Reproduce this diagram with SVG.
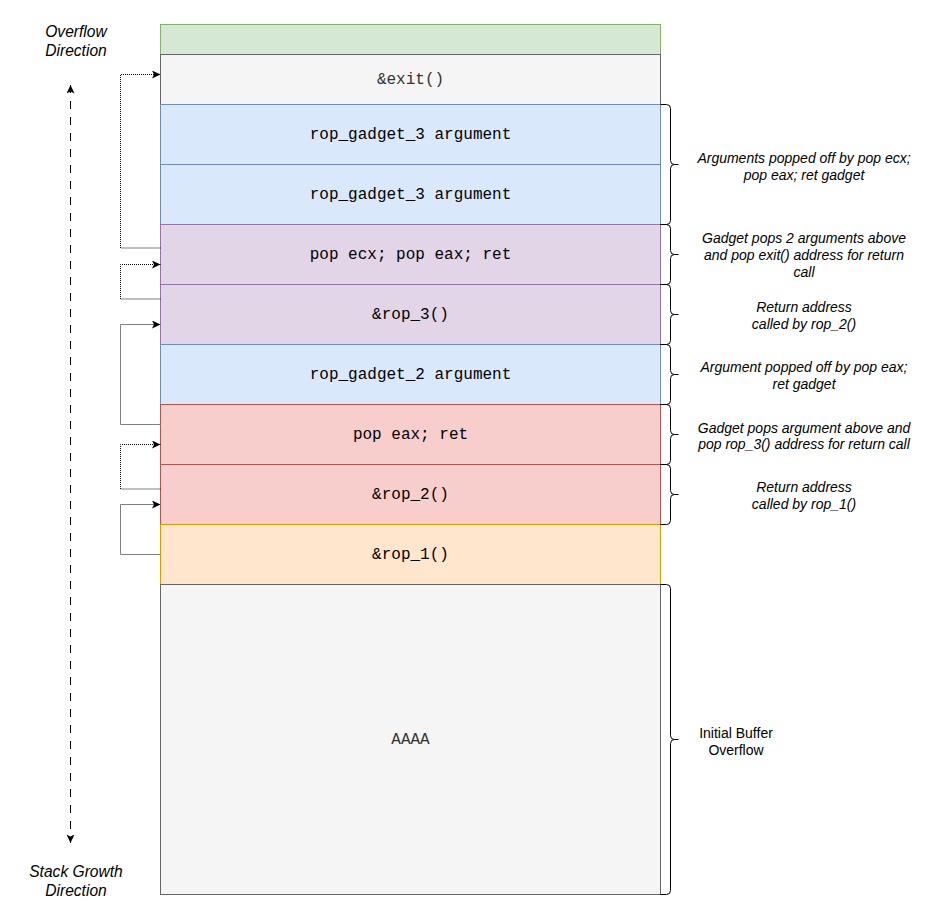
<svg xmlns="http://www.w3.org/2000/svg" width="934" height="918" viewBox="0 0 934 918">
<style>
.cell{stroke-width:1}
.g{fill:#d5e8d4;stroke:#82b366}
.gr{fill:#f5f5f5;stroke:#666666}
.b{fill:#dae8fc;stroke:#6c8ebf}
.p{fill:#e1d5e7;stroke:#9673a6}
.r{fill:#f8cecc;stroke:#b85450}
.o{fill:#ffe6cc;stroke:#d79b00}
.ct{font-family:"Liberation Mono","Courier New",monospace;font-size:16px;fill:#000;text-anchor:middle;dominant-baseline:central}
.ctg{fill:#333333}
.lbl{font-family:"Liberation Sans",Arial,sans-serif;font-style:italic;font-size:14px;fill:#000;text-anchor:middle;dominant-baseline:central}
.side{font-family:"Liberation Sans",Arial,sans-serif;font-style:italic;font-size:15.6px;fill:#000;text-anchor:middle;dominant-baseline:central}
.brace{fill:none;stroke:#000;stroke-width:1}
.dot{fill:none;stroke:#000;stroke-width:1;stroke-dasharray:1 1}
.sol{fill:none;stroke:#808080;stroke-width:1}
.dash{fill:none;stroke:#000;stroke-width:1;stroke-dasharray:8 8}
</style>
<defs>
<marker id="arr" markerUnits="userSpaceOnUse" markerWidth="10" markerHeight="10" viewBox="0 0 10 10" refX="8.5" refY="4" orient="auto-start-reverse">
<path d="M0,0 L8.5,4 L0,8 L2,4 Z" fill="#000" stroke="none"/>
</marker>
</defs>
<g id="node-top"><rect class="cell g" x="160.5" y="24.5" width="500" height="30"/></g>
<g id="node-exit"><rect class="cell gr" x="160.5" y="54.5" width="500" height="50"/><text class="ct ctg" x="410.5" y="79.5">&amp;exit()</text></g>
<g id="node-arg3a"><rect class="cell b" x="160.5" y="104.5" width="500" height="60"/><text class="ct" x="410.5" y="134.5">rop_gadget_3 argument</text></g>
<g id="node-arg3b"><rect class="cell b" x="160.5" y="164.5" width="500" height="60"/><text class="ct" x="410.5" y="194.5">rop_gadget_3 argument</text></g>
<g id="node-popecx"><rect class="cell p" x="160.5" y="224.5" width="500" height="60"/><text class="ct" x="410.5" y="254.5">pop ecx; pop eax; ret</text></g>
<g id="node-rop3"><rect class="cell p" x="160.5" y="284.5" width="500" height="60"/><text class="ct" x="410.5" y="314.5">&amp;rop_3()</text></g>
<g id="node-arg2"><rect class="cell b" x="160.5" y="344.5" width="500" height="60"/><text class="ct" x="410.5" y="374.5">rop_gadget_2 argument</text></g>
<g id="node-popeax"><rect class="cell r" x="160.5" y="404.5" width="500" height="60"/><text class="ct" x="410.5" y="434.5">pop eax; ret</text></g>
<g id="node-rop2"><rect class="cell r" x="160.5" y="464.5" width="500" height="60"/><text class="ct" x="410.5" y="494.5">&amp;rop_2()</text></g>
<g id="node-rop1"><rect class="cell o" x="160.5" y="524.5" width="500" height="60"/><text class="ct" x="410.5" y="554.5">&amp;rop_1()</text></g>
<g id="node-aaaa"><rect class="cell gr" x="160.5" y="584.5" width="500" height="310"/><text class="ct ctg" x="410.5" y="739.5">AAAA</text></g>

<g id="connectors">
<path class="dot" d="M160.5,248 L120.5,248 L120.5,74.5 L160.5,74.5" marker-end="url(#arr)"/>
<path class="dot" d="M160.5,299 L120.5,299 L120.5,264.5 L160.5,264.5" marker-end="url(#arr)"/>
<path class="sol" d="M160.5,424.5 L120.5,424.5 L120.5,324.5 L160.5,324.5" marker-end="url(#arr)"/>
<path class="dot" d="M160.5,489 L120.5,489 L120.5,444.5 L160.5,444.5" marker-end="url(#arr)"/>
<path class="sol" d="M160.5,554.5 L120.5,554.5 L120.5,504.5 L160.5,504.5" marker-end="url(#arr)"/>
<path class="dash" d="M70.5,85 L70.5,843" marker-start="url(#arr)" marker-end="url(#arr)"/>
</g>

<g id="braces">
<path class="brace" d="M660.5,104.5 L666.5,104.5 Q670.5,104.5 670.5,108.5 L670.5,160.5 Q670.5,164.5 674.5,164.5 L678.5,164.5 M674.5,164.5 Q670.5,164.5 670.5,168.5 L670.5,220.5 Q670.5,224.5 666.5,224.5 L660.5,224.5"/>
<path class="brace" d="M660.5,224.5 L666.5,224.5 Q670.5,224.5 670.5,228.5 L670.5,250.5 Q670.5,254.5 674.5,254.5 L678.5,254.5 M674.5,254.5 Q670.5,254.5 670.5,258.5 L670.5,280.5 Q670.5,284.5 666.5,284.5 L660.5,284.5"/>
<path class="brace" d="M660.5,284.5 L666.5,284.5 Q670.5,284.5 670.5,288.5 L670.5,310.5 Q670.5,314.5 674.5,314.5 L678.5,314.5 M674.5,314.5 Q670.5,314.5 670.5,318.5 L670.5,340.5 Q670.5,344.5 666.5,344.5 L660.5,344.5"/>
<path class="brace" d="M660.5,344.5 L666.5,344.5 Q670.5,344.5 670.5,348.5 L670.5,370.5 Q670.5,374.5 674.5,374.5 L678.5,374.5 M674.5,374.5 Q670.5,374.5 670.5,378.5 L670.5,400.5 Q670.5,404.5 666.5,404.5 L660.5,404.5"/>
<path class="brace" d="M660.5,404.5 L666.5,404.5 Q670.5,404.5 670.5,408.5 L670.5,430.5 Q670.5,434.5 674.5,434.5 L678.5,434.5 M674.5,434.5 Q670.5,434.5 670.5,438.5 L670.5,460.5 Q670.5,464.5 666.5,464.5 L660.5,464.5"/>
<path class="brace" d="M660.5,464.5 L666.5,464.5 Q670.5,464.5 670.5,468.5 L670.5,490.5 Q670.5,494.5 674.5,494.5 L678.5,494.5 M674.5,494.5 Q670.5,494.5 670.5,498.5 L670.5,520.5 Q670.5,524.5 666.5,524.5 L660.5,524.5"/>
<path class="brace" d="M660.5,584.5 L666.5,584.5 Q670.5,584.5 670.5,588.5 L670.5,735.5 Q670.5,739.5 674.5,739.5 L678.5,739.5 M674.5,739.5 Q670.5,739.5 670.5,743.5 L670.5,890.5 Q670.5,894.5 666.5,894.5 L660.5,894.5"/>
</g>

<g id="labels">
<text class="lbl" x="804" y="158">Arguments popped off by pop ecx;</text>
<text class="lbl" x="804" y="175">pop eax; ret gadget</text>
<text class="lbl" x="804" y="237.5">Gadget pops 2 arguments above</text>
<text class="lbl" x="804" y="254.5">and pop exit() address for return</text>
<text class="lbl" x="804" y="271.5">call</text>
<text class="lbl" x="804" y="307">Return address</text>
<text class="lbl" x="804" y="323.5">called by rop_2()</text>
<text class="lbl" x="804" y="367">Argument popped off by pop eax;</text>
<text class="lbl" x="804" y="383.5">ret gadget</text>
<text class="lbl" x="804" y="427.5">Gadget pops argument above and</text>
<text class="lbl" x="804" y="444">pop rop_3() address for return call</text>
<text class="lbl" x="804" y="487">Return address</text>
<text class="lbl" x="804" y="504">called by rop_1()</text>
<text class="lbl" x="736" y="732.5" style="font-style:normal">Initial Buffer</text>
<text class="lbl" x="736" y="749.5" style="font-style:normal">Overflow</text>
<text class="side" x="76" y="31">Overflow</text>
<text class="side" x="76" y="50.5">Direction</text>
<text class="side" x="76" y="871">Stack Growth</text>
<text class="side" x="76" y="890">Direction</text>
</g>
</svg>
